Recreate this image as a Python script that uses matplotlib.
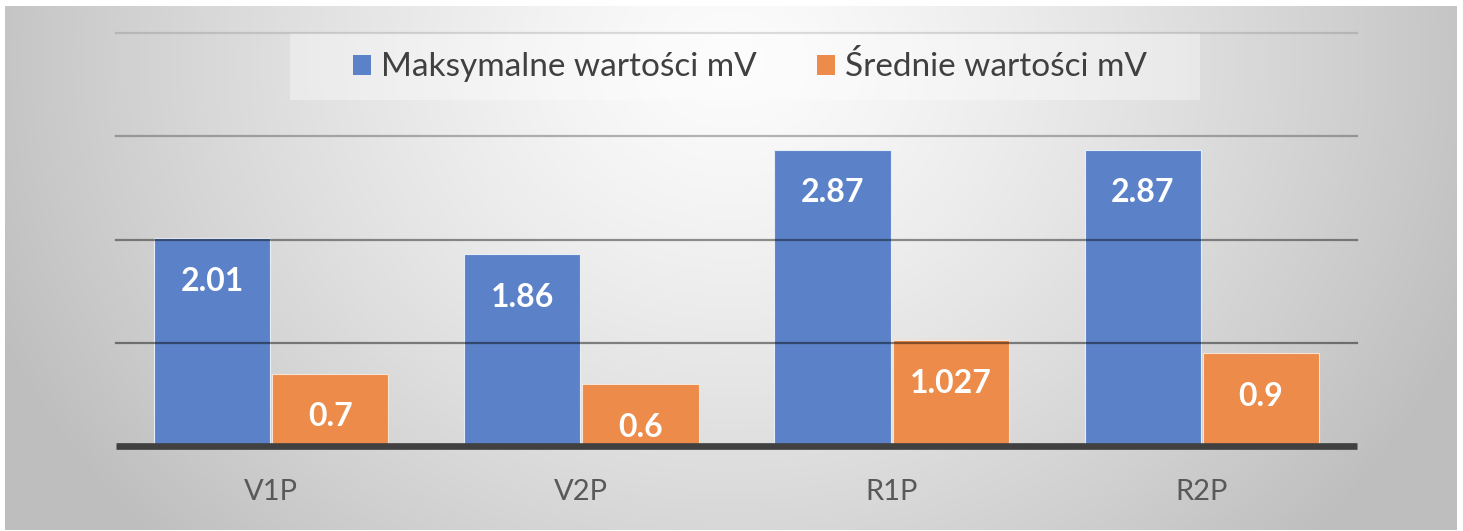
import numpy as np
import matplotlib.pyplot as plt
from matplotlib.patches import Rectangle

plt.rcParams['font.family'] = ['Lato', 'DejaVu Sans']

categories = ['V1P', 'V2P', 'R1P', 'R2P']
max_vals = [2.01, 1.86, 2.87, 2.87]
mean_vals = [0.7, 0.6, 1.027, 0.9]
max_labels = ['2.01', '1.86', '2.87', '2.87']
mean_labels = ['0.7', '0.6', '1.027', '0.9']
series_names = ['Maksymalne wartości mV', 'Średnie wartości mV']

W, H = 1463, 531
fig = plt.figure(figsize=(W / 100, H / 100), dpi=100)
fig.patch.set_facecolor('white')

# background radial gradient (pixel coords in this axes)
bg = fig.add_axes([0, 0, 1, 1])
yy, xx = np.mgrid[0:H, 0:W]
r = np.sqrt(((xx - 730) / 800.0) ** 2 + ((yy - 60) / 700.0) ** 2)
r = np.clip(r, 0, 1)
val = (252 - 62 * r ** 1.3) / 255.0
img = np.dstack([val, val, val])
img[:6, :] = 1.0
img[:, :5] = 1.0
img[:, W - 6:] = 1.0
img[H - 1:, :] = 1.0
bg.imshow(img, aspect='auto', extent=[0, W, H, 0])
bg.set_xlim(0, W)
bg.set_ylim(H, 0)
# lighter box behind the legend
bg.add_patch(Rectangle((290, 33), 910, 67, facecolor='white', alpha=0.35, edgecolor='none'))
bg.axis('off')

ax = fig.add_axes([116 / W, (H - 446) / H, (1357 - 116) / W, (446 - 33) / H])
ax.patch.set_alpha(0)
x = np.arange(len(categories))
w = 0.375
b1 = ax.bar(x - w / 2 - 0.003, max_vals, w, color='#5b82c8', edgecolor='#e8eef8',
            linewidth=0.8, label=series_names[0], zorder=2)
b2 = ax.bar(x + w / 2 + 0.003, mean_vals, w, color='#ec8b4a', edgecolor='#f8e4d4',
            linewidth=0.8, label=series_names[1], zorder=2)

ax.set_xlim(-0.5, 3.5)
ax.set_ylim(0, 4)

# gridlines drawn over bars, semi transparent
for level, a in zip([1, 2, 3, 4], [0.45, 0.42, 0.28, 0.12]):
    ax.axhline(level, color='black', alpha=a, linewidth=1.6, zorder=3, clip_on=False)
ax.axhline(0, color='#404040', linewidth=4.8, zorder=4, clip_on=False,
           solid_capstyle='butt')

for bars, labels in [(b1, max_labels), (b2, mean_labels)]:
    for rect, lab in zip(bars, labels):
        ax.annotate(lab, (rect.get_x() + rect.get_width() / 2, rect.get_height()),
                    xytext=(0, -31), textcoords='offset points', ha='center', va='center',
                    color='white', fontsize=23, fontweight='bold', zorder=5)

for s in ax.spines.values():
    s.set_visible(False)
ax.set_yticks([])
ax.set_xticks(x)
ax.set_xticklabels(categories, fontsize=21, color='#595959')
ax.tick_params(axis='x', length=0, pad=24)

leg = ax.legend(loc='center', bbox_to_anchor=((750 - 116) / 1241, (446 - 67) / 413), ncol=2,
                frameon=False, fontsize=24, handlelength=0.55, handleheight=0.55,
                handletextpad=0.3, columnspacing=1.8, labelcolor='#404040')
for h in leg.legend_handles:
    h.set_edgecolor('none')

fig.savefig('out.png', dpi=100)
